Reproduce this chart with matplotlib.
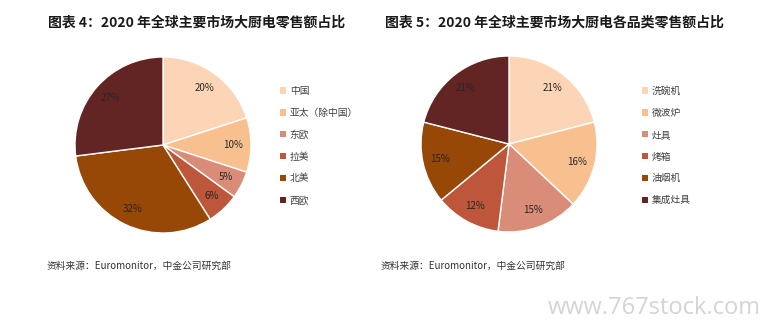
import matplotlib
matplotlib.use('Agg')
import matplotlib.pyplot as plt
from matplotlib.patches import Patch

plt.rcParams['font.family'] = ['Noto Sans CJK SC', 'DejaVu Sans']

# left pie: retail sales share by region
regions = ['中国', '亚太（除中国）', '东欧', '拉美', '北美', '西欧']
region_share = [20, 10, 5, 6, 32, 27]
# right pie: retail sales share by product category
categories = ['洗碗机', '微波炉', '灶具', '烤箱', '油烟机', '集成灶具']
category_share = [21, 16, 15, 12, 15, 21]

titles = ['图表 4：2020 年全球主要市场大厨电零售额占比',
          '图表 5：2020 年全球主要市场大厨电各品类零售额占比']
source = '资料来源：Euromonitor，中金公司研究部'

COLS = ['#FBD5B5', '#F9C08F', '#D98C78', '#BE563B', '#974706', '#632523']

W, H = 769, 335
fig = plt.figure(figsize=(W / 100, H / 100), dpi=100, facecolor='white')

def px_axes(cx, cy, r):
    return fig.add_axes([(cx - r) / W, 1 - (cy + r) / H, 2 * r / W, 2 * r / H])

panels = [
    dict(vals=region_share, labs=regions, cx=163, cy=145, tx=48, lx=280, sx=47),
    dict(vals=category_share, labs=categories, cx=509, cy=144, tx=385, lx=642, sx=381),
]

for p, ttl in zip(panels, titles):
    ax = px_axes(p['cx'], p['cy'], 88)
    wedges, _, autotexts = ax.pie(
        p['vals'], colors=COLS, startangle=90, counterclock=False,
        autopct='%d%%', pctdistance=0.8, radius=1.0,
        wedgeprops=dict(edgecolor='white', linewidth=1.0),
        textprops=dict(fontsize=7, color='#262626'))
    ax.set_xlim(-1, 1); ax.set_ylim(-1, 1)
    ax.set_aspect('equal')
    handles = [Patch(facecolor=c, edgecolor='none') for c in COLS]
    fig.legend(handles, p['labs'], loc='upper left',
               bbox_to_anchor=(p['lx'] / W, 1 - 86 / H), frameon=False,
               fontsize=7, labelcolor='#404040', handlelength=0.6,
               handleheight=0.6, handletextpad=0.4, labelspacing=1.22,
               borderaxespad=0, borderpad=0)
    fig.text(p['tx'] / W, 1 - 23 / H, ttl, fontsize=10, fontweight='bold',
             color='#1a1a1a', va='center', ha='left')
    fig.text(p['sx'] / W, 1 - 266 / H, source, fontsize=7, color='#333333',
             va='center', ha='left')

fig.text(548 / W, 1 - 308 / H, 'www.767stock.com', fontsize=17,
         family='Open Sans', color='#d4d4d4', va='center', ha='left')

fig.savefig('out.png', dpi=100, facecolor='white')
